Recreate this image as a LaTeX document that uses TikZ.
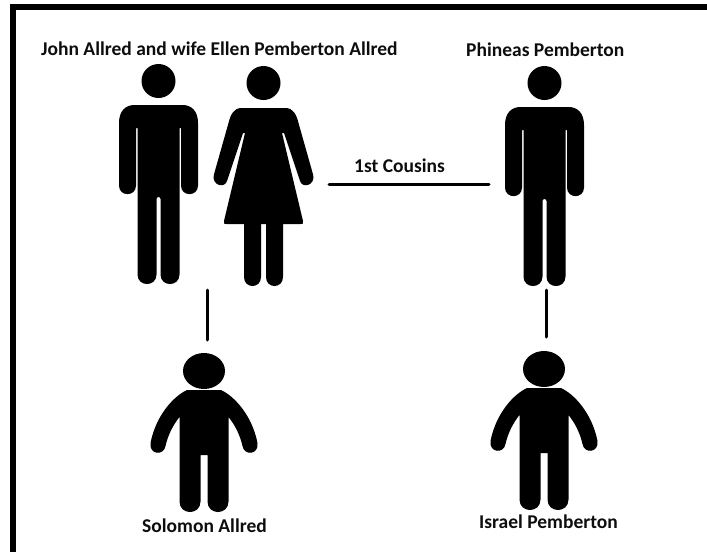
\documentclass[tikz,border=0pt]{standalone}
\usepackage{fontspec}
\setmainfont{Carlito}
\tikzset{
  figure/.style={fill=black,draw=none},
  label/.style={inner sep=0pt,anchor=base west,font=\fontsize{19.5}{22}\selectfont\bfseries,text=black!95},
  link/.style={draw=black,line width=3pt,line cap=round},
  man/.pic={
    \fill[figure] (0,81) circle (17);
    \fill[figure] (-39.5,123) .. controls (-39.5,111) and (-33,105) .. (-24,105) -- (24,105)
      .. controls (33,105) and (39.5,111) .. (39.5,123) -- (39.5,185.5)
      .. controls (39.5,197) and (22.5,197) .. (22.5,185.5) -- (22.5,128) -- (21,128) -- (21,274.5)
      .. controls (21,287.2) and (2,287.2) .. (2,274.5) -- (2,199)
      .. controls (2,196.3) and (-2,196.3) .. (-2,199) -- (-2,274.5)
      .. controls (-2,287.2) and (-21,287.2) .. (-21,274.5) -- (-21,128) -- (-22.5,128) -- (-22.5,185.5)
      .. controls (-22.5,197) and (-39.5,197) .. (-39.5,185.5) -- cycle;
  },
  woman/.pic={
    \fill[figure] (0,83) circle (17);
    \fill[figure] (22,108) .. controls (30,108) and (33,115) .. (35,123) -- (49.7,175)
      .. controls (52,185) and (39,189) .. (36.5,181) -- (20.5,133) -- (18.5,133) -- (39.5,221)
      .. controls (40,224) and (39.5,224) .. (37,224) -- (19.5,224) -- (19.5,277)
      .. controls (19.5,289) and (2.5,289) .. (2.5,277) -- (2.5,224) -- (-2.5,224) -- (-2.5,277)
      .. controls (-2.5,289) and (-19.5,289) .. (-19.5,277) -- (-19.5,224) -- (-37,224)
      .. controls (-39.5,224) and (-40,224) .. (-39.5,221) -- (-18.5,133) -- (-20.5,133) -- (-36.5,181)
      .. controls (-39,189) and (-52,185) .. (-49.7,175) -- (-35,123)
      .. controls (-33,115) and (-30,108) .. (-22,108) -- cycle;
  },
  child/.pic={
    \fill[figure] (0,371) ellipse (21 and 18);
    \fill[figure] (17,390) .. controls (30,396) and (48,415) .. (53.5,443)
      .. controls (55,455) and (40,456) .. (38.5,446) .. controls (36,435) and (31,425) .. (24.5,417)
      -- (24.5,501.5) .. controls (24.5,515.5) and (3.5,515.5) .. (3.5,501.5) -- (3.5,455) -- (-3.5,455)
      -- (-3.5,501.5) .. controls (-3.5,515.5) and (-24.5,515.5) .. (-24.5,501.5) -- (-24.5,417)
      .. controls (-31,425) and (-36,435) .. (-38.5,446) .. controls (-40,456) and (-55,455) .. (-53.5,443)
      .. controls (-48,415) and (-30,396) .. (-17,390) -- cycle;
  }
}
\begin{document}
\begin{tikzpicture}[x=1pt,y=-1pt]
\useasboundingbox (0,0) rectangle (707,552);
\fill[white] (0,0) rectangle (707,552);
\fill[black] (10,4) rectangle (707,10);
\fill[black] (10,4) rectangle (16,552);

\pic at (158.5,0) {man};
\pic at (263.5,0) {woman};
\pic at (544.5,2) {man};
\pic at (204,0) {child};
\pic at (544,-2) {child};

\node[label] (couple) at (41,55) {John Allred and wife Ellen Pemberton Allred};
\node[label] (phineas) at (466,56) {Phineas Pemberton};
\node[label] (cousins) at (354,172) {1st Cousins};
\node[label] (solomon) at (142,532) {Solomon Allred};
\node[label] (israel) at (479,528) {Israel Pemberton};

\coordinate (cl) at (329,184);
\coordinate (cr) at (489,184);
\coordinate (la) at (207,290);
\coordinate (lb) at (207,340);
\coordinate (ra) at (546,290);
\coordinate (rb) at (546,337);
\draw[link] (cl) -- (cr);
\draw[link] (la) -- (lb);
\draw[link] (ra) -- (rb);
\end{tikzpicture}
\end{document}
